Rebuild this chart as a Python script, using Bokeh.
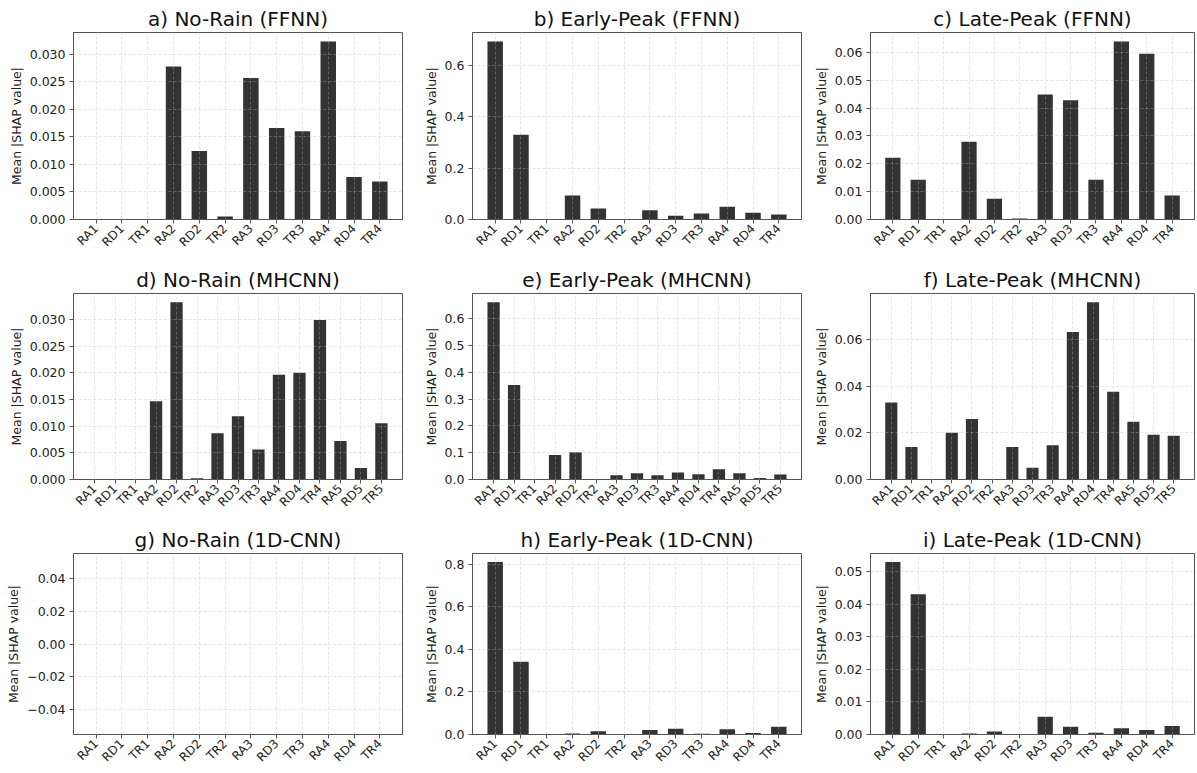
from bokeh.plotting import figure
from bokeh.layouts import gridplot
from bokeh.models import Range1d, FactorRange, SingleIntervalTicker, CustomJSTickFormatter
from bokeh.embed import file_html
from bokeh.resources import INLINE

# ---------------- data ----------------
feat12 = ["RA1", "RD1", "TR1", "RA2", "RD2", "TR2", "RA3", "RD3", "TR3", "RA4", "RD4", "TR4"]
feat15 = ["RA1", "RD1", "TR1", "RA2", "RD2", "TR2", "RA3", "RD3", "TR3", "RA4", "RD4", "TR4", "RA5", "RD5", "TR5"]

titles = [
    "a) No-Rain (FFNN)", "b) Early-Peak (FFNN)", "c) Late-Peak (FFNN)",
    "d) No-Rain (MHCNN)", "e) Early-Peak (MHCNN)", "f) Late-Peak (MHCNN)",
    "g) No-Rain (1D-CNN)", "h) Early-Peak (1D-CNN)", "i) Late-Peak (1D-CNN)",
]

a_norain_ffnn = [0, 0, 0, 0.0278, 0.01245, 0.00055, 0.0257, 0.01664, 0.01603, 0.03237, 0.00771, 0.00692]
b_early_ffnn = [0.695, 0.331, 0, 0.0939, 0.043, 0, 0.0365, 0.0143, 0.0235, 0.0496, 0.026, 0.0196]
c_late_ffnn = [0.0222, 0.01428, 0, 0.02796, 0.00744, 0.0004, 0.04488, 0.04284, 0.01428, 0.06396, 0.05952, 0.00864]

d_norain_mhcnn = [0, 0, 0, 0.01466, 0.03324, 0.00025, 0.00867, 0.01185, 0.00561, 0.01965, 0.02002, 0.02994,
                  0.00723, 0.00218, 0.01054]
e_early_mhcnn = [0.662, 0.3528, 0, 0.0919, 0.1019, 0, 0.016, 0.0236, 0.016, 0.026, 0.0199, 0.0385,
                 0.0236, 0.006, 0.0186]
f_late_mhcnn = [0.033, 0.01393, 0, 0.02005, 0.02588, 0, 0.01393, 0.005, 0.01464, 0.0631, 0.0758, 0.03754,
                0.02474, 0.0192, 0.01877]

g_norain_cnn = [0, 0, 0, 0, 0, 0, 0, 0, 0, 0, 0, 0]
h_early_cnn = [0.809, 0.3416, 0, 0.0046, 0.0152, 0, 0.0213, 0.0273, 0.004, 0.0243, 0.0076, 0.0364]
i_late_cnn = [0.05298, 0.04314, 0, 0.0003, 0.0009, 0, 0.00547, 0.00239, 0.0005, 0.00189, 0.00139, 0.00258]

panel_feats = [feat12, feat12, feat12, feat15, feat15, feat15, feat12, feat12, feat12]
panel_vals = [a_norain_ffnn, b_early_ffnn, c_late_ffnn,
              d_norain_mhcnn, e_early_mhcnn, f_late_mhcnn,
              g_norain_cnn, h_early_cnn, i_late_cnn]
tick_steps = [0.005, 0.2, 0.01, 0.005, 0.1, 0.02, 0.02, 0.2, 0.01]
tick_decimals = [3, 1, 2, 3, 1, 2, 2, 1, 2]

# ---------------- layout / style ----------------
FONT = "DejaVu Sans"
BAR = "#333333"
col_w = [404, 399, 393]
col_left = [73, 68, 67]
col_right = [2, 2, 2]
row_h = [261, 260, 251]
row_top = [32, 32, 32]
row_bot = [42, 42, 32]

figs = []
for k in range(9):
    r, c = divmod(k, 3)
    feats = panel_feats[k]
    vals = panel_vals[k]
    n = len(feats)
    side = 0.05 * n - 0.22
    xr = FactorRange(factors=feats, range_padding=2 * side / n)
    vmax = max(vals)
    if vmax > 0:
        yr = Range1d(0, vmax * 1.05)
    else:
        yr = Range1d(-0.055, 0.055)
    p = figure(x_range=xr, y_range=yr, width=col_w[c], height=row_h[r],
               output_backend="svg", toolbar_location=None,
               min_border_left=col_left[c], min_border_right=col_right[c],
               min_border_top=row_top[r], min_border_bottom=row_bot[r])
    p.vbar(x=feats, top=vals, width=0.6, fill_color=BAR, line_color=None)

    p.title.text = titles[k]
    p.title.align = "center"
    p.title.text_font = FONT
    p.title.text_font_size = "20px"
    p.title.text_font_style = "normal"
    p.title.text_color = "#111111"
    p.title.standoff = 3

    p.outline_line_color = "#555555"
    p.outline_line_width = 1

    for ax in (p.xaxis[0], p.yaxis[0]):
        ax.axis_line_color = "#555555"
        ax.major_tick_line_color = "#555555"
        ax.major_tick_out = 4
        ax.major_tick_in = 0
        ax.minor_tick_line_color = None
        ax.major_label_text_font = FONT
        ax.major_label_text_color = "#222222"

    p.xaxis.major_label_orientation = 0.785398
    p.xaxis.major_label_text_font_size = "12px"
    p.xaxis.major_label_standoff = 3

    p.yaxis.ticker = SingleIntervalTicker(interval=tick_steps[k], num_minor_ticks=0)
    p.yaxis.formatter = CustomJSTickFormatter(args=dict(d=tick_decimals[k]), code="""
        const t = Math.abs(tick) < 1e-12 ? 0 : tick;
        return (t < 0 ? '\u2212' : '') + Math.abs(t).toFixed(d);
    """)
    p.yaxis.major_label_text_font_size = "12.5px"
    p.yaxis.axis_label = "Mean |SHAP value|"
    p.yaxis.axis_label_text_font = FONT
    p.yaxis.axis_label_text_font_size = "12.5px"
    p.yaxis.axis_label_text_font_style = "normal"
    p.yaxis.axis_label_text_color = "#222222"
    p.yaxis.axis_label_standoff = 3
    p.yaxis.major_label_standoff = 4

    for g in (p.xgrid[0], p.ygrid[0]):
        g.grid_line_color = "#b8b8b8"
        g.grid_line_alpha = 0.45
        g.grid_line_dash = "3 2"
        g.grid_line_width = 0.8
        g.level = "overlay"

    figs.append(p)

grid = gridplot([figs[0:3], figs[3:6], figs[6:9]], toolbar_location=None)

open("out.html", "w").write(file_html(grid, INLINE))
